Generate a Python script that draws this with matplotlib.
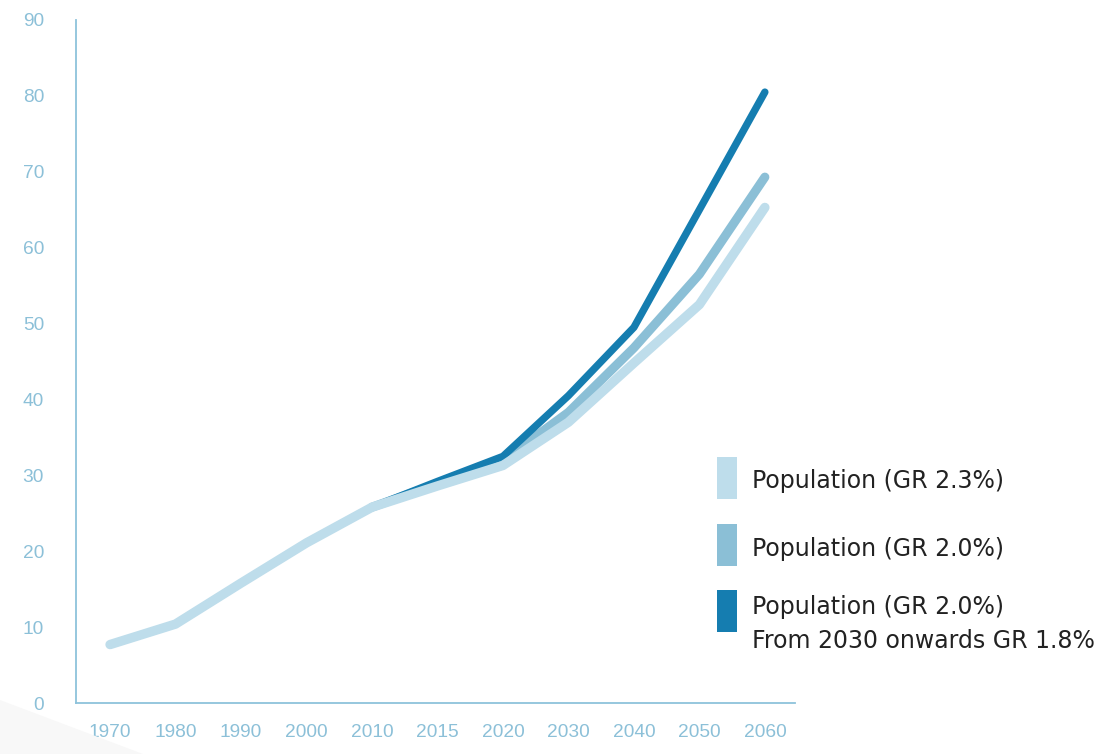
import matplotlib
matplotlib.use("Agg")
import matplotlib.pyplot as plt
from matplotlib.patches import Rectangle, Polygon

years = ["1970", "1980", "1990", "2000", "2010", "2015", "2020", "2030", "2040", "2050", "2060"]
pop_gr23 = [7.7, 10.4, 15.8, 21.1, 25.8, 28.6, 31.3, 37.0, 44.8, 52.5, 65.3]
pop_gr20 = [None, None, None, None, 25.8, 28.9, 32.0, 38.3, 46.8, 56.5, 69.3]
pop_gr20_18 = [None, None, None, None, 25.8, 29.2, 32.5, 40.5, 49.5, 65.0, 80.5]
y_ticks = [0, 10, 20, 30, 40, 50, 60, 70, 80, 90]

labels = ["Population (GR 2.3%)", "Population (GR 2.0%)",
          "Population (GR 2.0%)\nFrom 2030 onwards GR 1.8%"]
colors = ["#BEDDEB", "#8BBFD6", "#157DB0"]

fig = plt.figure(figsize=(11.02, 7.54), dpi=100)
# faint background shape bottom-left
fig.patches.append(Polygon([(0, 1 - 700 / 754), (143 / 1102, 0), (0, 0)],
                           closed=True, transform=fig.transFigure,
                           facecolor="#F8F8F8", edgecolor="none", zorder=0))
ax = fig.add_axes([76 / 1102, 1 - 703 / 754, (795 - 76) / 1102, (703 - 20) / 754])
ax.set_facecolor("none")

x = list(range(len(years)))

def seg(vals):
    xs = [xi for xi, v in zip(x, vals) if v is not None]
    ys = [v for v in vals if v is not None]
    return xs, ys

xs, ys = seg(pop_gr20)
ax.plot(xs, ys, color=colors[1], lw=6.5, solid_capstyle="round", solid_joinstyle="round", zorder=2)
xs, ys = seg(pop_gr20_18)
ax.plot(xs, ys, color=colors[2], lw=5.3, solid_capstyle="round", solid_joinstyle="round", zorder=3)
xs, ys = seg(pop_gr23)
ax.plot(xs, ys, color=colors[0], lw=6.8, solid_capstyle="round", solid_joinstyle="round", zorder=4)

ax.set_xlim(-0.52, 10.46)
ax.set_ylim(0, 90)
ax.set_xticks(x)
ax.set_xticklabels(years)
ax.set_yticks(y_ticks)
ax.set_yticklabels([str(t) for t in y_ticks])
axis_col = "#8EC3DB"
tick_col = "#8CC0D8"
for s in ["top", "right"]:
    ax.spines[s].set_visible(False)
for s in ["left", "bottom"]:
    ax.spines[s].set_color(axis_col)
    ax.spines[s].set_linewidth(1.3)
ax.tick_params(axis="both", length=0, colors=tick_col, labelsize=13.8)
ax.tick_params(axis="x", pad=15)
ax.tick_params(axis="y", pad=23)
for lab in ax.get_xticklabels() + ax.get_yticklabels():
    lab.set_fontfamily("Liberation Sans")

# legend
box_tops = [457, 524, 590]
text_y = [481, 549, 624]
for col, lab, top, ty in zip(colors, labels, box_tops, text_y):
    fig.patches.append(Rectangle((717 / 1102, 1 - (top + 42) / 754), 20 / 1102, 42 / 754,
                                 transform=fig.transFigure, facecolor=col,
                                 edgecolor="none"))
    fig.text(752 / 1102, 1 - ty / 754, lab, ha="left", va="center",
             fontsize=17, color="#222222", family="DejaVu Sans", linespacing=1.5)

fig.savefig("out.png", dpi=100)
